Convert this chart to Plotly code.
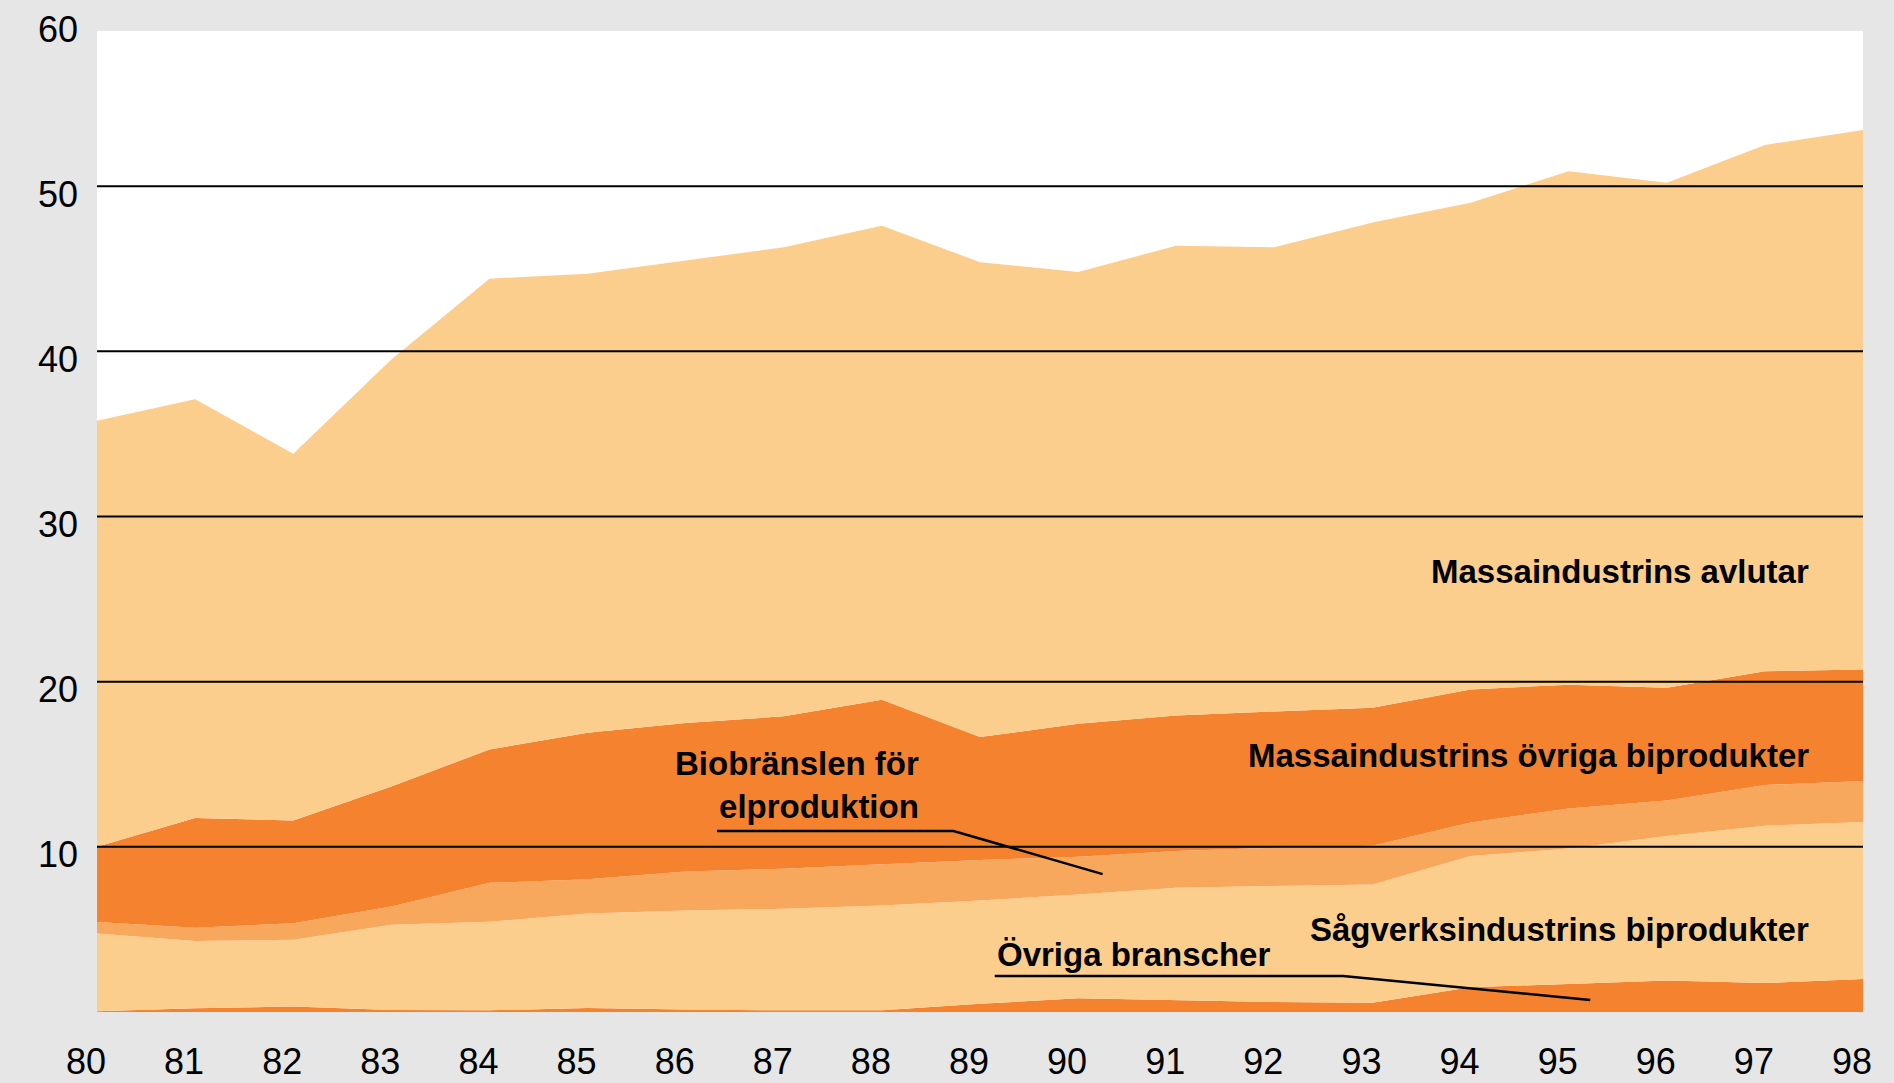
import plotly.graph_objects as go

# ---- data (TWh) ----
years = list(range(80, 99))
year_labels = [str(y) for y in years]

ovriga_branscher = [0.05, 0.22, 0.34, 0.12, 0.10, 0.24, 0.15, 0.10, 0.10, 0.50,
                    0.83, 0.70, 0.60, 0.56, 1.50, 1.70, 1.90, 1.75, 2.00]
sagverk_biprodukter = [4.71, 4.08, 4.04, 5.16, 5.36, 5.73, 6.00, 6.15, 6.35, 6.25,
                       6.29, 6.82, 7.03, 7.16, 7.94, 8.20, 8.75, 9.52, 9.50]
biobransle_el = [0.69, 0.80, 1.00, 1.10, 2.36, 2.06, 2.35, 2.43, 2.50, 2.45,
                 2.28, 2.23, 2.32, 2.35, 2.04, 2.42, 2.15, 2.48, 2.48]
massa_ovriga = [4.55, 6.65, 6.22, 7.27, 8.08, 8.87, 9.00, 9.22, 9.95, 7.45,
                8.05, 8.20, 8.25, 8.35, 8.05, 7.50, 6.83, 6.88, 6.75]
massa_avlutar = [25.80, 25.35, 22.20, 25.85, 28.50, 27.80, 28.00, 28.40, 28.70, 28.75,
                 27.35, 28.45, 28.10, 29.38, 29.47, 31.08, 30.57, 31.87, 32.67]

y_ticks = [10, 20, 30, 40, 50, 60]
grid_values = [10, 20, 30, 40, 50]

LIGHT = "#FCCE8D"
DARK = "#F4822F"
MED = "#F8A85C"
BG = "#E6E6E6"
FONT = "Liberation Sans, Arial, sans-serif"

series = [
    ("Övriga branscher", ovriga_branscher, DARK),
    ("Sågverksindustrins biprodukter", sagverk_biprodukter, LIGHT),
    ("Biobränslen för elproduktion", biobransle_el, MED),
    ("Massaindustrins övriga biprodukter", massa_ovriga, DARK),
    ("Massaindustrins avlutar", massa_avlutar, LIGHT),
]

fig = go.Figure()
for name, vals, col in series:
    fig.add_trace(go.Scatter(
        x=years, y=vals, name=name, mode="lines",
        stackgroup="one", line=dict(width=0, color=col),
        fillcolor=col, hoverinfo="x+y+name",
    ))

shapes = []
for g in grid_values:
    shapes.append(dict(type="line", xref="paper", x0=0, x1=1, yref="y", y0=g, y1=g,
                       line=dict(color="black", width=2), layer="above"))
# strip above the drawing area (axis runs to 60, drawing area stops just below)
shapes.append(dict(type="rect", xref="paper", x0=0, x1=1, yref="y", y0=59.4, y1=60,
                   fillcolor=BG, line=dict(width=0), layer="above"))
# leader lines
shapes.append(dict(type="path", xref="x", yref="y",
                   path="M 86.32,10.96 L 88.73,10.96 L 90.25,8.35",
                   line=dict(color="black", width=2.5), layer="above"))
shapes.append(dict(type="path", xref="x", yref="y",
                   path="M 89.15,2.18 L 92.70,2.18 L 95.22,0.73",
                   line=dict(color="black", width=2.5), layer="above"))

lab_font = dict(family=FONT, size=33, color="black")
annotations = [
    dict(x=97.47, y=26.70, text="<b>Massaindustrins avlutar</b>", xanchor="right", yanchor="middle"),
    dict(x=97.47, y=15.50, text="<b>Massaindustrins övriga biprodukter</b>", xanchor="right", yanchor="middle"),
    dict(x=97.47, y=5.00, text="<b>Sågverksindustrins biprodukter</b>", xanchor="right", yanchor="middle"),
    dict(x=88.40, y=13.74, text="<b>Biobränslen för<br>elproduktion</b>", xanchor="right", yanchor="middle", align="right"),
    dict(x=89.15, y=3.47, text="<b>Övriga branscher</b>", xanchor="left", yanchor="middle"),
]
for a in annotations:
    a.update(xref="x", yref="y", showarrow=False, font=lab_font)

fig.update_layout(
    width=1894, height=1083, autosize=False,
    margin=dict(l=97, r=31, t=21, b=71, pad=0, autoexpand=False),
    paper_bgcolor=BG, plot_bgcolor="white",
    showlegend=False,
    shapes=shapes, annotations=annotations,
    font=dict(family=FONT, color="black"),
)
fig.update_xaxes(range=[80, 98], tickvals=years, ticktext=year_labels,
                 showgrid=False, zeroline=False, showline=False, ticks="",
                 automargin=False,
                 tickfont=dict(family=FONT, size=36, color="black"),
                 ticklabelshift=-11, ticklabelstandoff=25)
fig.update_yaxes(range=[0, 60], tickvals=y_ticks, ticktext=[str(v) for v in y_ticks],
                 showgrid=False, zeroline=False, showline=False, ticks="",
                 automargin=False,
                 tickfont=dict(family=FONT, size=36, color="black"),
                 ticklabelshift=8, ticklabelstandoff=18)

fig.write_html("out.html", config={"displayModeBar": False},
               post_script="document.body.style.margin='0';document.body.style.padding='0';document.body.style.overflow='hidden';")
